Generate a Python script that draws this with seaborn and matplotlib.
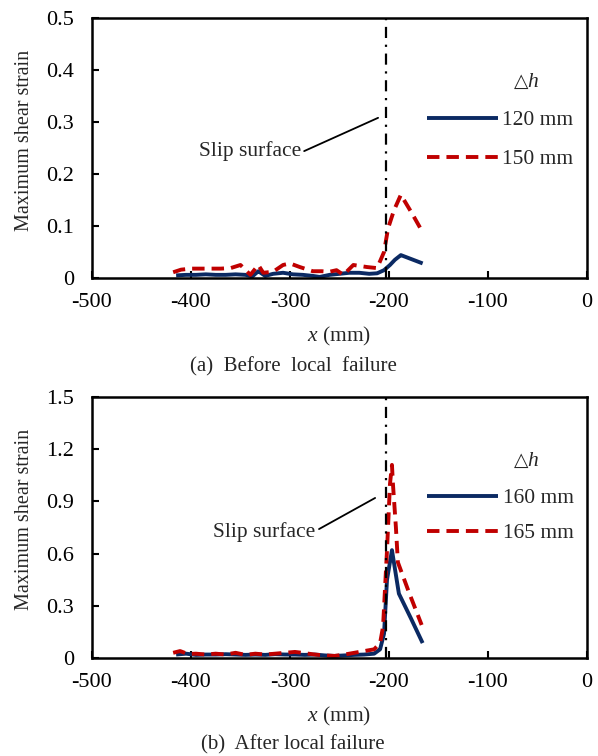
import matplotlib
matplotlib.use("Agg")
import matplotlib.pyplot as plt
import seaborn as sns
import pandas as pd

# ---- data ----
xa_120 = [-415, -405, -395, -385, -375, -365, -355, -345, -338, -332, -325, -317, -307, -297,
          -287, -277, -270, -260, -250, -240, -230, -220, -212, -205, -199, -194, -188, -177, -166]
ya_120 = [0.005, 0.006, 0.006, 0.007, 0.006, 0.006, 0.007, 0.006, 0.003, 0.013, 0.004, 0.008,
          0.010, 0.007, 0.006, 0.004, 0.002, 0.006, 0.008, 0.010, 0.010, 0.008, 0.009, 0.015,
          0.025, 0.035, 0.044, 0.036, 0.028]
xa_150 = [-418, -410, -400, -390, -380, -370, -360, -350, -340, -332, -327, -317, -307, -300,
          -290, -277, -268, -260, -253, -246, -236, -222, -212, -205, -201, -195, -188, -177, -166]
ya_150 = [0.011, 0.016, 0.018, 0.018, 0.018, 0.018, 0.019, 0.025, 0.006, 0.025, 0.010, 0.012,
          0.025, 0.028, 0.021, 0.013, 0.013, 0.012, 0.015, 0.006, 0.025, 0.021, 0.019, 0.050,
          0.095, 0.130, 0.160, 0.125, 0.088]

xb_160 = [-415, -405, -395, -385, -375, -365, -355, -345, -335, -325, -315, -305, -295, -285,
          -275, -265, -255, -245, -235, -225, -215, -209, -205, -202, -197, -190, -178, -166]
yb_160 = [0.020, 0.025, 0.018, 0.020, 0.020, 0.022, 0.020, 0.018, 0.020, 0.018, 0.022, 0.020,
          0.020, 0.018, 0.020, 0.015, 0.012, 0.015, 0.018, 0.020, 0.025, 0.050, 0.140, 0.450,
          0.620, 0.370, 0.230, 0.086]
xb_165 = [-418, -411, -403, -395, -385, -375, -365, -355, -345, -335, -325, -315, -305, -295,
          -285, -275, -265, -255, -245, -235, -225, -215, -209, -206, -202, -199, -197, -196,
          -193, -191, -180, -167]
yb_165 = [0.030, 0.040, 0.023, 0.025, 0.020, 0.025, 0.020, 0.030, 0.018, 0.025, 0.020, 0.025,
          0.030, 0.035, 0.028, 0.020, 0.015, 0.012, 0.020, 0.030, 0.040, 0.050, 0.086, 0.180,
          0.620, 1.000, 1.110, 1.000, 0.750, 0.550, 0.380, 0.190]

slip_x = -203
x_ticks = [-500, -400, -300, -200, -100, 0]
ya_ticks = [0, 0.1, 0.2, 0.3, 0.4, 0.5]
ya_labels = ["0", "0.1", "0.2", "0.3", "0.4", "0.5"]
yb_ticks = [0, 0.3, 0.6, 0.9, 1.2, 1.5]
yb_labels = ["0", "0.3", "0.6", "0.9", "1.2", "1.5"]

sns.set_style("ticks")
plt.rcParams['font.family'] = ['Liberation Serif', 'DejaVu Serif']
plt.rcParams['mathtext.fontset'] = 'custom'
plt.rcParams['mathtext.rm'] = 'Liberation Serif'
plt.rcParams['mathtext.it'] = 'Liberation Serif:italic'

NAVY = "#0b2a63"
RED = "#c00000"
TICK_FS = 16
LEG_FS = 15.5

fig = plt.figure(figsize=(5.98, 7.56), dpi=100)
ax1 = fig.add_axes([0.1538, 0.6323, 0.8278, 0.3439])
ax2 = fig.add_axes([0.1538, 0.1296, 0.8278, 0.3452])

def make_df(x1, y1, n1, x2, y2, n2):
    d1 = pd.DataFrame({"x": x1, "y": y1, "s": n1})
    d2 = pd.DataFrame({"x": x2, "y": y2, "s": n2})
    return pd.concat([d1, d2], ignore_index=True)

def style_ax(ax, yticks, ylabels, ymax):
    ax.set_xlim(-500, 0)
    ax.set_ylim(0, ymax)
    ax.set_xticks(x_ticks)
    ax.set_xticklabels([str(t) for t in x_ticks])
    ax.set_yticks(yticks)
    ax.set_yticklabels(ylabels)
    ax.tick_params(direction='in', length=5, width=1.5, labelsize=TICK_FS,
                   top=False, right=False, colors='black')
    ax.tick_params(axis='x', pad=11)
    ax.tick_params(axis='y', pad=13)
    for sp in ax.spines.values():
        sp.set_visible(True)
        sp.set_linewidth(1.8)
        sp.set_color('black')
    ax.set_ylabel("Maximum shear strain", fontsize=14.5, labelpad=4)
    ax.yaxis.set_label_coords(-0.118, 0.53)
    ax.set_xlabel("$x$ (mm)", fontsize=15.5, labelpad=9)

def draw(ax, df, names):
    sns.lineplot(data=df, x="x", y="y", hue="s", style="s",
                 hue_order=names, style_order=names,
                 palette=[NAVY, RED], dashes=[(1, 0), (3.2, 1.8)],
                 linewidth=2.8, ax=ax, sort=False, estimator=None)
    ax.axvline(slip_x, color='black', lw=1.6, ls=(0, (5, 3, 1, 3)), zorder=5)

def legend(ax, anchor_y, spacing):
    h, l = ax.get_legend_handles_labels()
    ax.legend(h, l, frameon=False, fontsize=LEG_FS,
              handlelength=3.3, labelspacing=spacing, handletextpad=0.2,
              loc='upper right', bbox_to_anchor=(1.012, anchor_y))
    ax.text(0.867, 0.752, "△", fontsize=13.5, ha='center', va='center',
            transform=ax.transAxes)
    ax.text(0.89, 0.752, "h", fontsize=LEG_FS, style='italic', ha='center',
            va='center', transform=ax.transAxes)

df1 = make_df(xa_120, ya_120, "120 mm", xa_150, ya_150, "150 mm")
draw(ax1, df1, ["120 mm", "150 mm"])
style_ax(ax1, ya_ticks, ya_labels, 0.5)
legend(ax1, 0.72, 0.88)
ax1.annotate("Slip surface", xy=(-211, 0.308), xytext=(-289, 0.245),
             fontsize=15.5, ha='right', va='center',
             arrowprops=dict(arrowstyle='-', color='black', lw=1.3,
                             shrinkA=0, shrinkB=0, relpos=(1.0, 0.4)))

df2 = make_df(xb_160, yb_160, "160 mm", xb_165, yb_165, "165 mm")
draw(ax2, df2, ["160 mm", "165 mm"])
style_ax(ax2, yb_ticks, yb_labels, 1.5)
legend(ax2, 0.725, 0.7)
ax2.annotate("Slip surface", xy=(-214, 0.92), xytext=(-274, 0.725),
             fontsize=15.5, ha='right', va='center',
             arrowprops=dict(arrowstyle='-', color='black', lw=1.3,
                             shrinkA=0, shrinkB=0, relpos=(1.0, 0.55)))

fig.text(0.49, 1 - 367 / 756, "(a)  Before  local  failure", fontsize=15,
         ha='center', va='center')
fig.text(0.49, 1 - 745 / 756, "(b)  After local failure", fontsize=15,
         ha='center', va='center')

fig.savefig("out.png", dpi=100)
